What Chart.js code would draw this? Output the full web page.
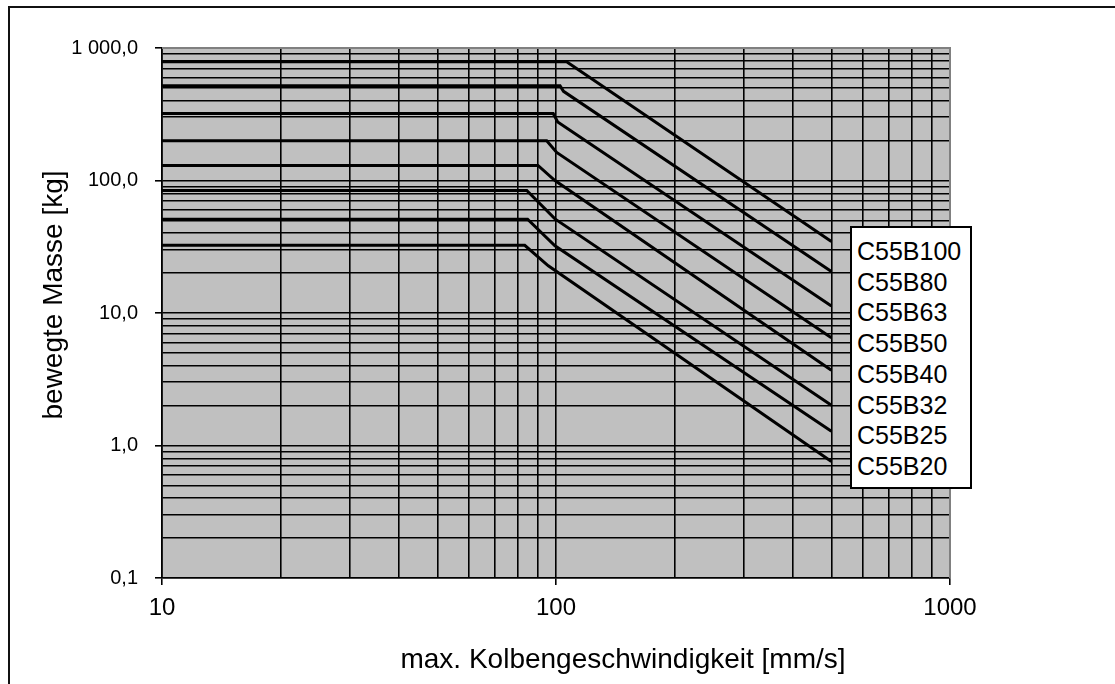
<!DOCTYPE html>
<html>
<head>
<meta charset="utf-8">
<script src="https://cdn.jsdelivr.net/npm/chart.js@4.4.1/dist/chart.umd.min.js"></script>
<style>
    body { margin: 0; background: #fff; overflow: hidden; }
    #wrap { position: relative; width: 1115px; height: 684px; overflow: hidden; }
    #frame { position: absolute; left: 8px; top: 6px; width: 1300px; height: 900px;
             border-left: 2px solid #111; border-top: 2px solid #111; }
    canvas { position: absolute; left: 0; top: 0; }
    #legend { position: absolute; left: 850px; top: 226px; width: 122px; height: 263px;
              box-sizing: border-box; border: 2px solid #000; background: #fff;
              padding: 8px 0 0 5px; font: 25px 'Liberation Sans', Arial, sans-serif;
              line-height: 30.7px; color: #000; }
</style>
</head>
<body>
<div id="wrap">
    <div id="frame"></div>
    <canvas id="chart" width="1115" height="684"></canvas>
    <div id="legend"></div>
</div>
<script>
// Series names (legend order)
const SERIES_NAMES = ['C55B100', 'C55B80', 'C55B63', 'C55B50', 'C55B40', 'C55B32', 'C55B25', 'C55B20'];

// Piston speed [mm/s] and moved mass [kg]
const SPEED_B100 = [10, 106.4, 500];
const MASS_B100 = [788, 788, 34.7];
const SPEED_B80 = [10, 102.4, 104.5, 500];
const MASS_B80 = [518, 518, 471, 20.6];
const SPEED_B63 = [10, 98.4, 101, 500];
const MASS_B63 = [320, 320, 277, 11.3];
const SPEED_B50 = [10, 94.7, 100.4, 500];
const MASS_B50 = [199.5, 199.5, 163, 6.5];
const SPEED_B40 = [10, 90, 99.4, 500];
const MASS_B40 = [130, 130, 100, 3.7];
const SPEED_B32 = [10, 84.3, 99.4, 500];
const MASS_B32 = [84, 84, 51.3, 2.01];
const SPEED_B25 = [10, 84.7, 99.4, 500];
const MASS_B25 = [51, 51, 32.2, 1.28];
const SPEED_B20 = [10, 83.3, 95.6, 500];
const MASS_B20 = [32.4, 32.4, 22.7, 0.757];

// Grid lines and tick labels
const X_GRID = [10, 20, 30, 40, 50, 60, 70, 80, 90, 100, 200, 300, 400, 500, 600, 700, 800, 900, 1000];
const X_MAJOR = [10, 100, 1000];
const X_LABELS = ['10', '100', '1000'];
const Y_GRID = [0.1, 0.2, 0.3, 0.4, 0.5, 0.6, 0.7, 0.8, 0.9,
                1, 2, 3, 4, 5, 6, 7, 8, 9,
                10, 20, 30, 40, 50, 60, 70, 80, 90,
                100, 200, 300, 400, 500, 600, 700, 800, 900, 1000];
const Y_MAJOR = [0.1, 1, 10, 100, 1000];
const Y_LABELS = ['0,1', '1,0', '10,0', '100,0', '1 000,0'];

const FONT = "'Liberation Sans', Arial, sans-serif";

const speeds = [SPEED_B100, SPEED_B80, SPEED_B63, SPEED_B50, SPEED_B40, SPEED_B32, SPEED_B25, SPEED_B20];
const masses = [MASS_B100, MASS_B80, MASS_B63, MASS_B50, MASS_B40, MASS_B32, MASS_B25, MASS_B20];

function majorIndex(list, value) {
    return list.findIndex(m => Math.abs(m - value) < m * 1e-6);
}

const datasets = SERIES_NAMES.map((name, s) => ({
    label: name,
    data: speeds[s].map((v, i) => ({ x: v, y: masses[s][i] })),
    showLine: true,
    borderColor: '#000',
    borderWidth: 3,
    pointRadius: 0,
    tension: 0
}));

// Gray plot background, gray top/right frame and axis titles
const plotDecor = {
    id: 'plotDecor',
    beforeDraw(chart) {
        const { ctx, chartArea: a } = chart;
        ctx.save();
        ctx.fillStyle = '#C0C0C0';
        ctx.fillRect(a.left, a.top, a.right - a.left, a.bottom - a.top);
        ctx.restore();
    },
    afterDraw(chart) {
        const { ctx, chartArea: a } = chart;
        ctx.save();
        ctx.strokeStyle = '#808080';
        ctx.lineWidth = 2;
        ctx.beginPath();
        ctx.moveTo(a.left, a.top);
        ctx.lineTo(a.right, a.top);
        ctx.lineTo(a.right, a.bottom);
        ctx.stroke();

        ctx.fillStyle = '#000';
        ctx.font = '28px ' + FONT;
        ctx.textAlign = 'center';
        ctx.textBaseline = 'middle';
        ctx.fillText('max. Kolbengeschwindigkeit [mm/s]', 623, 660);
        ctx.translate(54, 295);
        ctx.rotate(-Math.PI / 2);
        ctx.fillText('bewegte Masse [kg]', 0, 0);
        ctx.restore();
    }
};

const chart = new Chart(document.getElementById('chart').getContext('2d'), {
    type: 'scatter',
    data: { datasets: datasets },
    plugins: [plotDecor],
    options: {
        responsive: false,
        animation: false,
        layout: { padding: { top: 48, right: 165, left: 0, bottom: 0 } },
        plugins: { legend: { display: false }, tooltip: { enabled: false } },
        scales: {
            x: {
                type: 'logarithmic',
                min: 10,
                max: 1000,
                afterBuildTicks: scale => { scale.ticks = X_GRID.map(v => ({ value: v })); },
                afterFit: scale => { scale.height = 106; },
                ticks: {
                    autoSkip: false,
                    maxRotation: 0,
                    padding: 9,
                    color: '#000',
                    font: { family: FONT, size: 24 },
                    callback: value => {
                        const i = majorIndex(X_MAJOR, value);
                        return i >= 0 ? X_LABELS[i] : '';
                    }
                },
                grid: {
                    color: '#000',
                    lineWidth: 1.6,
                    tickLength: 7,
                    tickColor: ctx => majorIndex(X_MAJOR, ctx.tick.value) >= 0 ? '#000' : 'rgba(0,0,0,0)'
                },
                border: { color: '#000', width: 1.6 }
            },
            y: {
                type: 'logarithmic',
                min: 0.1,
                max: 1000,
                afterBuildTicks: scale => { scale.ticks = Y_GRID.map(v => ({ value: v })); },
                afterFit: scale => { scale.width = 162; },
                ticks: {
                    autoSkip: false,
                    padding: 17,
                    color: '#000',
                    font: { family: FONT, size: 20 },
                    callback: value => {
                        const i = majorIndex(Y_MAJOR, value);
                        return i >= 0 ? Y_LABELS[i] : '';
                    }
                },
                grid: {
                    color: '#000',
                    lineWidth: 1.6,
                    tickLength: 7,
                    tickColor: ctx => majorIndex(Y_MAJOR, ctx.tick.value) >= 0 ? '#000' : 'rgba(0,0,0,0)'
                },
                border: { color: '#000', width: 1.6 }
            }
        }
    }
});

// Text-only legend box, as in the original
const legend = document.getElementById('legend');
chart.data.datasets.forEach(ds => {
    const row = document.createElement('div');
    row.textContent = ds.label;
    legend.appendChild(row);
});
</script>
</body>
</html>
